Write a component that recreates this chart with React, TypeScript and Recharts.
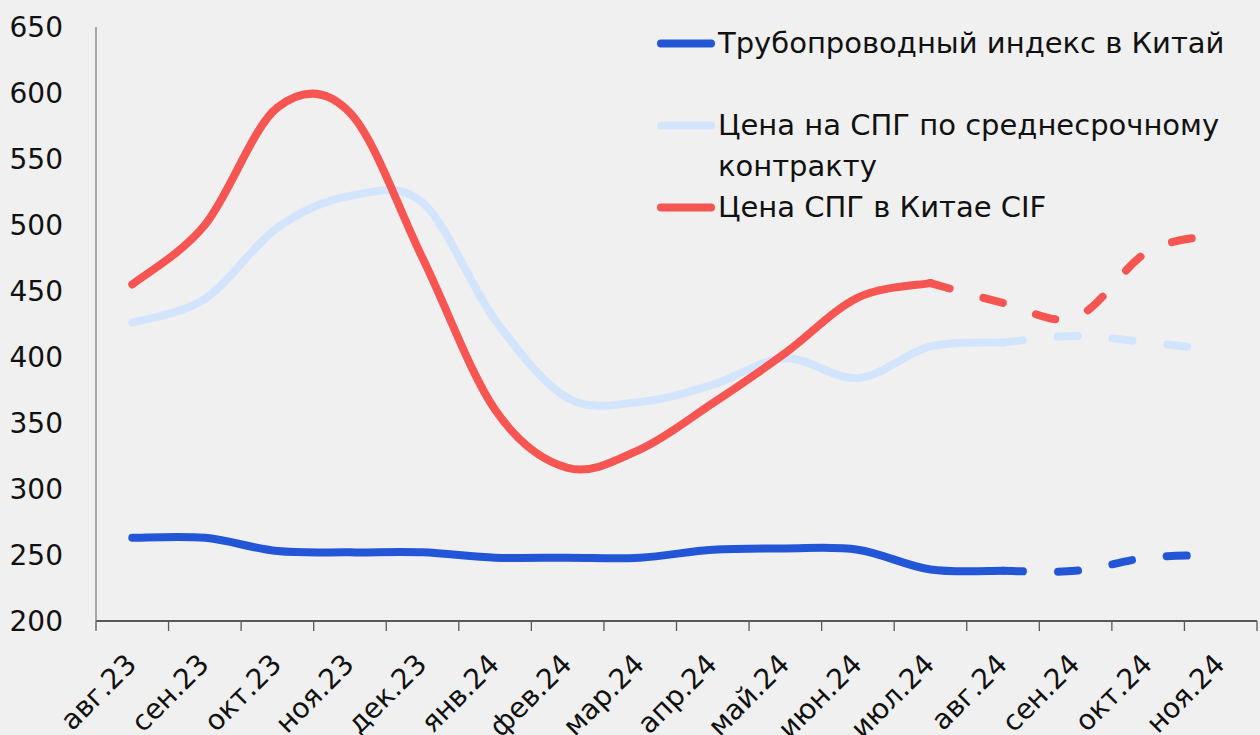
import React from 'react';
import { LineChart, Line, XAxis, YAxis, Legend } from 'recharts';

const FONT = '"DejaVu Sans", sans-serif';

const months = ['авг.23', 'сен.23', 'окт.23', 'ноя.23', 'дек.23', 'янв.24', 'фев.24', 'мар.24', 'апр.24', 'май.24', 'июн.24', 'июл.24', 'авг.24', 'сен.24', 'окт.24', 'ноя.24'];
const pipelineIndex = [263, 263, 253, 252, 252, 248, 248, 248, 254, 255, 254, 239, 238, 238, 248, 250];
const lngContract = [426, 444, 498, 522, 517, 428, 369, 366, 379, 399, 384, 408, 411, 416, 411, 405];
const lngChinaCif = [455, 500, 589, 585, 475, 360, 316, 330, 365, 403, 445, 456, 441, 430, 480, 493];
const yTicks = [200, 250, 300, 350, 400, 450, 500, 550, 600, 650];
const xBoundaries = [0, 1, 2, 3, 4, 5, 6, 7, 8, 9, 10, 11, 12, 13, 14, 15, 16];

const names = {
  pipe: 'Трубопроводный индекс в Китай',
  cont: 'Цена на СПГ по среднесрочному контракту',
  cif: 'Цена СПГ в Китае CIF',
};
const legendOrder = ['pipe', 'cont', 'cif'];
const pipeLastActual = 12;
const contLastActual = 12;
const cifLastActual = 11;

const data = months.map((m, i) => ({
  x: i + 0.5,
  month: m,
  pipe: i <= pipeLastActual ? pipelineIndex[i] : null,
  pipeF: i >= pipeLastActual ? pipelineIndex[i] : null,
  cont: i <= contLastActual ? lngContract[i] : null,
  contF: i >= contLastActual ? lngContract[i] : null,
  cif: i <= cifLastActual ? lngChinaCif[i] : null,
  cifF: i >= cifLastActual ? lngChinaCif[i] : null,
}));

const BLUE = '#2356D6';
const LIGHT = '#D3E5FC';
const RED = '#F75551';

// Catmull-Rom style smoothing (similar to spreadsheet "smoothed line")
const smoothCurve: any = (context: any) => {
  let pts: number[][] = [];
  return {
    areaStart() {},
    areaEnd() {},
    lineStart() {
      pts = [];
    },
    point(x: number, y: number) {
      pts.push([+x, +y]);
    },
    lineEnd() {
      const n = pts.length;
      if (n === 0) return;
      context.moveTo(pts[0][0], pts[0][1]);
      if (n === 1) {
        context.lineTo(pts[0][0], pts[0][1]);
        return;
      }
      for (let i = 0; i < n - 1; i++) {
        const p0 = pts[Math.max(i - 1, 0)];
        const p1 = pts[i];
        const p2 = pts[i + 1];
        const p3 = pts[Math.min(i + 2, n - 1)];
        const c1x = p1[0] + (p2[0] - p0[0]) / 6;
        const c1y = p1[1] + (p2[1] - p0[1]) / 6;
        const c2x = p2[0] - (p3[0] - p1[0]) / 6;
        const c2y = p2[1] - (p3[1] - p1[1]) / 6;
        context.bezierCurveTo(c1x, c1y, c2x, c2y, p2[0], p2[1]);
      }
    },
  };
};

const MonthTick = (props: any) => {
  const { x, y, payload } = props;
  const label = months[payload.value];
  if (!label) return null;
  const ax = x + 42;
  const ay = y + 33;
  return (
    <text
      x={ax}
      y={ay}
      transform={`rotate(-45 ${ax} ${ay})`}
      textAnchor="end"
      fontSize={28}
      fontFamily={FONT}
      fill="#111"
    >
      {label}
    </text>
  );
};

const renderLegend = (props: any) => {
  const payload = (props.payload || [])
    .filter((e: any) => legendOrder.includes(e.dataKey))
    .sort((a: any, b: any) => legendOrder.indexOf(a.dataKey) - legendOrder.indexOf(b.dataKey));
  return (
    <div style={{ fontFamily: FONT, fontSize: 29, color: '#111', lineHeight: '41px' }}>
      {payload.map((entry: any, i: number) => (
        <div
          key={i}
          style={{ display: 'flex', alignItems: 'flex-start', marginBottom: i === 0 ? 41 : 0 }}
        >
          <svg width={65} height={41} style={{ flex: '0 0 auto' }}>
            <line x1={8} y1={20.5} x2={58} y2={20.5} stroke={entry.color} strokeWidth={8} strokeLinecap="round" />
          </svg>
          <span style={{ maxWidth: 530 }}>{entry.value}</span>
        </div>
      ))}
    </div>
  );
};

const lineCommon = {
  type: smoothCurve,
  dot: false,
  activeDot: false,
  isAnimationActive: false,
  strokeWidth: 8,
  strokeLinecap: 'round' as const,
  strokeLinejoin: 'round' as const,
};

export default function App() {
  return (
    <div style={{ position: 'absolute', left: 0, top: 0, width: 1260, height: 735, background: '#F0F0F0', overflow: 'hidden' }}>
      <LineChart width={1260} height={735} data={data} margin={{ top: 27, right: 3, bottom: 0, left: 0 }}>
        <XAxis
          type="number"
          dataKey="x"
          domain={[0, 16]}
          ticks={xBoundaries}
          interval={0}
          tickSize={10}
          height={114}
          axisLine={{ stroke: '#262626', strokeWidth: 1.3 }}
          tickLine={{ stroke: '#595959', strokeWidth: 1.3 }}
          tick={<MonthTick />}
        />
        <YAxis
          type="number"
          domain={[200, 650]}
          ticks={yTicks}
          interval={0}
          width={96}
          tickSize={0}
          tickMargin={33}
          tickLine={false}
          axisLine={{ stroke: '#7F7F7F', strokeWidth: 1.3 }}
          tick={{ fontSize: 28, fontFamily: FONT, fill: '#111' }}
        />
        <Legend
          layout="horizontal"
          verticalAlign="middle"
          align="center"
          content={renderLegend}
          wrapperStyle={{ top: 23, left: 653, width: 600 }}
        />
        <Line {...lineCommon} dataKey="pipe" name={names.pipe} stroke={BLUE} />
        <Line {...lineCommon} dataKey="cont" name={names.cont} stroke={LIGHT} />
        <Line {...lineCommon} dataKey="cif" name={names.cif} stroke={RED} />
        <Line {...lineCommon} dataKey="pipeF" name={names.pipe} stroke={BLUE} strokeDasharray="20 35" legendType="none" />
        <Line {...lineCommon} dataKey="contF" name={names.cont} stroke={LIGHT} strokeDasharray="20 35" legendType="none" />
        <Line {...lineCommon} dataKey="cifF" name={names.cif} stroke={RED} strokeDasharray="20 35" legendType="none" />
      </LineChart>
    </div>
  );
}
